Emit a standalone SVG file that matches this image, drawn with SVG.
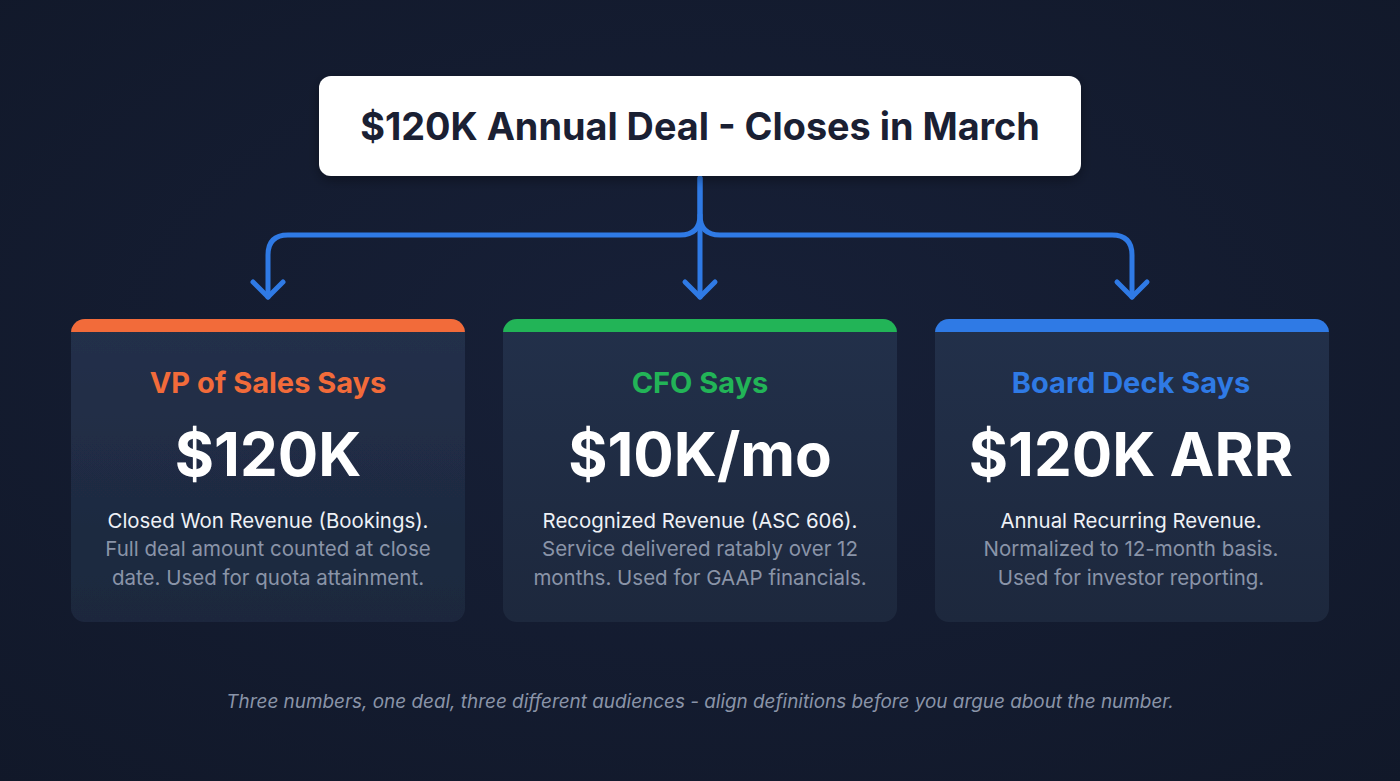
<svg xmlns="http://www.w3.org/2000/svg" width="1400" height="781" viewBox="0 0 1400 781">
<defs>
<style>
text{font-family:Inter,"Liberation Sans",sans-serif;text-anchor:middle}
.title{font-size:37.8px;font-weight:700;fill:#1a2033}
.head{font-size:29px;font-weight:700}
.big{font-size:60px;font-weight:700;fill:#ffffff}
.d1{font-size:20.4px;fill:#eef1f6}
.d2{font-size:20.5px;fill:#8a94a8}
.foot{font-size:18.9px;font-style:italic;fill:#8a94a8}
.card{fill:url(#cg)}
.conn{fill:none;stroke:#2f7ae5;stroke-width:5;stroke-linecap:round;stroke-linejoin:round}
</style>
<linearGradient id="cg" x1="0" y1="0" x2="0" y2="1">
<stop offset="0" stop-color="#22304a"/>
<stop offset="1" stop-color="#1d283d"/>
</linearGradient>
<radialGradient id="bg" cx="0.5" cy="0.45" r="0.75">
<stop offset="0" stop-color="#172038"/>
<stop offset="1" stop-color="#111829"/>
</radialGradient>
<filter id="sh" x="-10%" y="-10%" width="120%" height="130%">
<feDropShadow dx="0" dy="4" stdDeviation="6" flood-color="#000" flood-opacity="0.35"/>
</filter>
<clipPath id="c1"><rect x="71" y="319" width="394" height="303" rx="14"/></clipPath>
<clipPath id="c2"><rect x="503" y="319" width="394" height="303" rx="14"/></clipPath>
<clipPath id="c3"><rect x="935" y="319" width="394" height="303" rx="14"/></clipPath>
</defs>
<rect width="1400" height="781" fill="url(#bg)"/>

<g id="connectors">
<path class="conn" d="M700 178 V215 Q700 235 680 235 H288 Q268 235 268 255 V297"/>
<path class="conn" d="M700 178 V215 Q700 235 720 235 H1112 Q1132 235 1132 255 V297"/>
<path class="conn" d="M700 215 V297"/>
<path class="conn" d="M253 282 L268 297 L283 282"/>
<path class="conn" d="M685 282 L700 297 L715 282"/>
<path class="conn" d="M1117 282 L1132 297 L1147 282"/>
</g>

<g id="deal">
<rect x="319" y="76" width="762" height="100" rx="12" fill="#ffffff" filter="url(#sh)"/>
<text class="title" x="700" y="140">$120K Annual Deal - Closes in March</text>
</g>

<g id="vp-sales">
<g clip-path="url(#c1)">
<rect class="card" x="71" y="319" width="394" height="303" filter="url(#sh)"/>
<rect x="71" y="319" width="394" height="13" fill="#f26b3a"/>
</g>
<text class="head" x="268" y="393" fill="#f26b3a">VP of Sales Says</text>
<text class="big" x="268" y="476">$120K</text>
<text class="d1" x="268" y="528">Closed Won Revenue (Bookings).</text>
<text class="d2" x="268" y="556">Full deal amount counted at close</text>
<text class="d2" x="268" y="585">date. Used for quota attainment.</text>
</g>

<g id="cfo">
<g clip-path="url(#c2)">
<rect class="card" x="503" y="319" width="394" height="303"/>
<rect x="503" y="319" width="394" height="13" fill="#22b457"/>
</g>
<text class="head" x="700" y="393" fill="#22b457">CFO Says</text>
<text class="big" x="700" y="476">$10K/mo</text>
<text class="d1" x="700" y="528">Recognized Revenue (ASC 606).</text>
<text class="d2" x="700" y="556">Service delivered ratably over 12</text>
<text class="d2" x="700" y="585">months. Used for GAAP financials.</text>
</g>

<g id="board">
<g clip-path="url(#c3)">
<rect class="card" x="935" y="319" width="394" height="303"/>
<rect x="935" y="319" width="394" height="13" fill="#2f7ae5"/>
</g>
<text class="head" x="1131" y="393" fill="#2f7ae5">Board Deck Says</text>
<text class="big" x="1131" y="476">$120K ARR</text>
<text class="d1" x="1131" y="528">Annual Recurring Revenue.</text>
<text class="d2" x="1131" y="556">Normalized to 12-month basis.</text>
<text class="d2" x="1131" y="585">Used for investor reporting.</text>
</g>

<text class="foot" x="700" y="708">Three numbers, one deal, three different audiences - align definitions before you argue about the number.</text>
</svg>
